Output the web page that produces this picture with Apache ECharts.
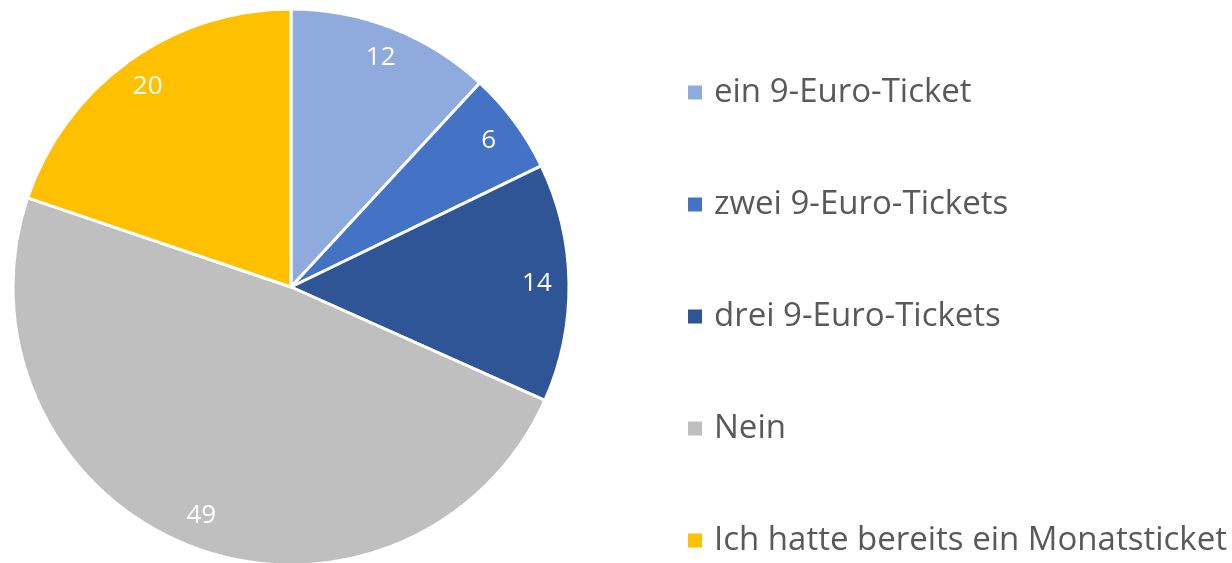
<!DOCTYPE html>
<html>
<head>
<meta charset="utf-8">
<script src="https://cdn.jsdelivr.net/npm/echarts@6/dist/echarts.min.js"></script>
<style>
  html, body { margin: 0; padding: 0; background: #fff; }
  #chart { width: 1232px; height: 563px; }
</style>
</head>
<body>
<div id="chart"></div>
<script>
var categories = [
  "ein 9-Euro-Ticket",
  "zwei 9-Euro-Tickets",
  "drei 9-Euro-Tickets",
  "Nein",
  "Ich hatte bereits ein Monatsticket"
];
var values = [12, 6, 14, 49, 20];
var colors = ["#8FAADC", "#4472C4", "#2F5597", "#BFBFBF", "#FFC000"];

var pieData = categories.map(function (name, i) {
  return { name: name, value: values[i], itemStyle: { color: colors[i] } };
});

var chart = echarts.init(document.getElementById("chart"));
chart.setOption({
  animation: false,
  legend: {
    orient: "vertical",
    left: 686,
    top: 76,
    bottom: 0,
    padding: 0,
    itemWidth: 16,
    itemHeight: 16,
    itemGap: 79,
    icon: "rect",
    selectedMode: false,
    textStyle: {
      color: "#595959",
      fontFamily: "Open Sans",
      fontSize: 33,
      lineHeight: 33,
      padding: [0, 0, 0, 6]
    },
    data: categories
  },
  series: [
    {
      type: "pie",
      center: [291, 287],
      radius: 278,
      startAngle: 90,
      clockwise: true,
      silent: true,
      itemStyle: { borderColor: "#fff", borderWidth: 3 },
      label: { show: false },
      labelLine: { show: false },
      data: pieData
    },
    {
      // transparent ring only used to place the value labels
      type: "pie",
      center: [291, 287],
      radius: [208, 278],
      startAngle: 90,
      clockwise: true,
      silent: true,
      itemStyle: { color: "transparent", borderWidth: 0 },
      label: {
        show: true,
        position: "inside",
        formatter: "{c}",
        color: "#fff",
        fontFamily: "Open Sans",
        fontSize: 26
      },
      labelLine: { show: false },
      data: values.map(function (v, i) { return { name: categories[i] + " ", value: v }; })
    }
  ]
});
</script>
</body>
</html>
